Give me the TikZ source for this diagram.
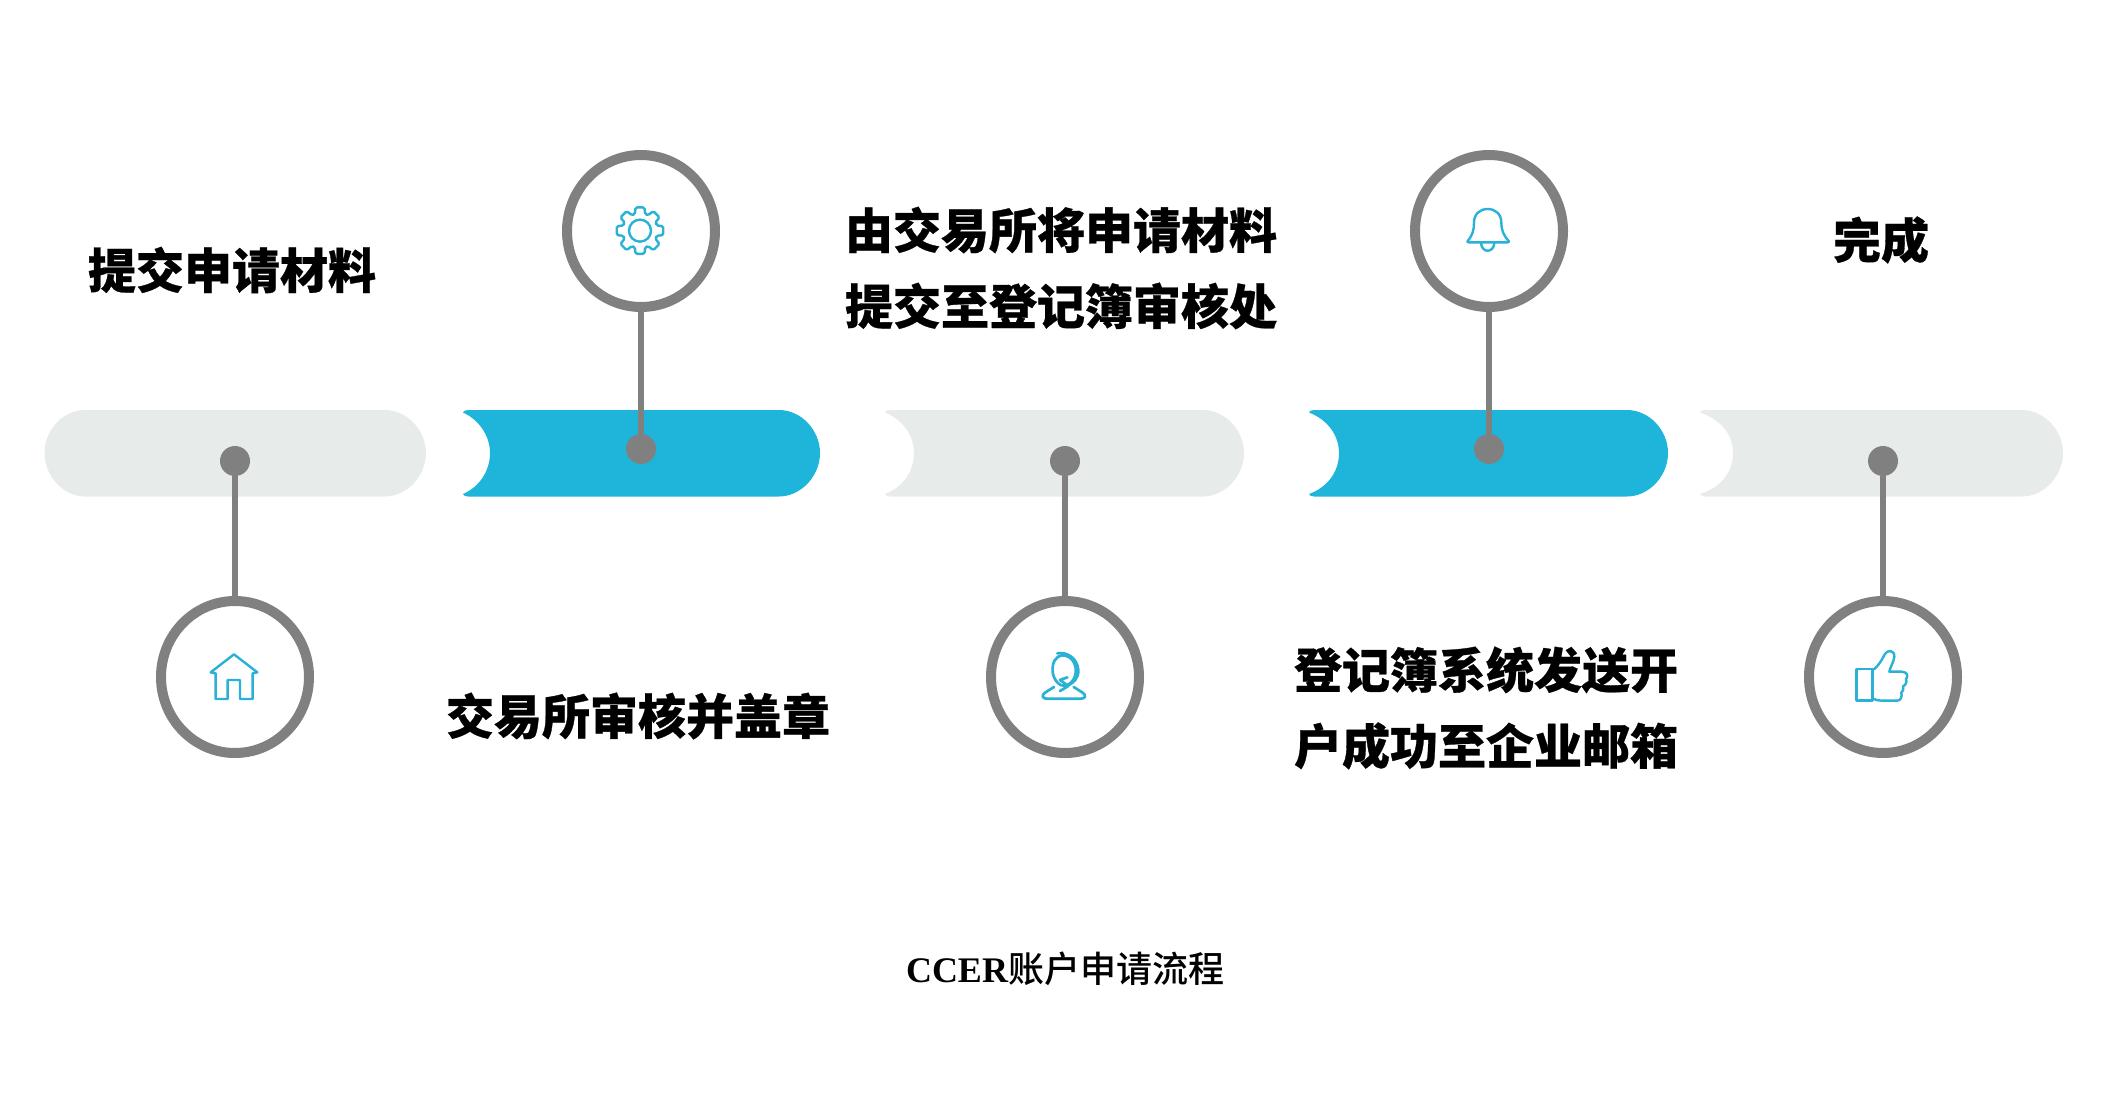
\documentclass[tikz,border=0pt]{standalone}
\usepackage{fontspec}
\usetikzlibrary{shapes.geometric}
\newfontfamily\cjkh[FakeBold=0.6]{Noto Sans CJK SC Black}
\newfontfamily\cjkm{Noto Sans CJK SC Medium}
\newfontfamily\latb{Liberation Serif}
\definecolor{pale}{HTML}{E7ECEA}
\definecolor{sky}{HTML}{1FB4DA}
\definecolor{steel}{HTML}{808080}
\definecolor{icon}{HTML}{29B2D6}
\tikzset{
  ring/.style={ellipse,draw=steel,line width=10pt,fill=white,minimum width=148pt,minimum height=152pt,inner sep=0,outer sep=0},
  dot/.style={circle,fill=steel,minimum size=30pt,inner sep=0,outer sep=0},
  conn/.style={draw=steel,line width=6pt},
  label/.style={font=\cjkh\fontsize{48}{76}\selectfont,align=center,inner sep=0,text=black},
  ico/.style={draw=icon,line width=2.4pt,line join=round,line cap=round},
}
\begin{document}
\begin{tikzpicture}[x=1pt,y=-1pt]
\useasboundingbox (0,0) rectangle (2120,1110);
% pills
\fill[pale] (85,410) -- (385,410) .. controls (407,410) and (426,430) .. (426,453)
  .. controls (426,476) and (407,496.5) .. (385,496.5) -- (85,496.5)
  .. controls (63,496.5) and (44.5,476) .. (44.5,453) .. controls (44.5,430) and (63,410) .. (85,410) -- cycle;
\foreach \xa/\nn/\xb/\col in {463/490/820/sky,885/914/1244/pale,1309/1339/1668/sky,1700/1733/2063/pale}{
  \fill[\col] ({\xa+5},410) -- ({\xb-41},410)
    .. controls ({\xb-19},410) and (\xb,430) .. (\xb,453)
    .. controls (\xb,476) and ({\xb-19},496.5) .. ({\xb-41},496.5)
    -- ({\xa+5},496.5) .. controls ({\xa+2},496.5) and ({\xa+1},495.5) .. (\xa,494)
    .. controls ({\nn-10.7},487) and (\nn,471) .. (\nn,453)
    .. controls (\nn,436) and ({\nn-10.7},420) .. (\xa,412.5)
    .. controls ({\xa+1},411) and ({\xa+2},410) .. ({\xa+5},410) -- cycle;
}
% rings and dots
\node[ring] (r1) at (235,677) {};
\node[ring] (r2) at (641,231) {};
\node[ring] (r3) at (1065,677) {};
\node[ring] (r4) at (1489,231) {};
\node[ring] (r5) at (1883,677) {};
\node[dot] (d1) at (235,461) {};
\node[dot] (d2) at (641,449) {};
\node[dot] (d3) at (1065,461) {};
\node[dot] (d4) at (1489,449) {};
\node[dot] (d5) at (1883,461) {};
\foreach \i in {1,...,5}{\draw[conn] (d\i) -- (r\i);}
% labels
\node[label] (t1) at (232,270) {提交申请材料};
\node[label] (t2) at (638,716) {交易所审核并盖章};
\node[label] (t3) at (1061,268) {由交易所将申请材料\\提交至登记簿审核处};
\node[label] (t4) at (1486,708) {登记簿系统发送开\\户成功至企业邮箱};
\node[label] (t5) at (1881,240) {完成};
\node[inner sep=0] (title) at (1065,969) {\fontsize{36}{40}\selectfont{\latb\bfseries CCER}{\cjkm 账户申请流程}};
% house
\begin{scope}[shift={(140,590)},x=0.3333pt,y=-0.3333pt]
\draw[ico] (227,327) -- (227,250) -- (212,247) -- (282,193) -- (352,247) -- (338,250) -- (338,327) -- (300,327) -- (300,270) -- (263,270) -- (263,327) -- cycle;
\end{scope}
% gear
\begin{scope}[shift={(560,140)},x=0.3333pt,y=-0.3333pt]
\draw[ico] (240,272) circle[radius=11pt];
\draw[ico,rounded corners=1.6pt] ({240+52*cos(-17)},{272+52*sin(-17)})
  \foreach \a in {0,45,...,315}{
    -- ({240+52*cos(\a-17)},{272+52*sin(\a-17)})
    -- ({240+71*cos(\a-11)},{272+71*sin(\a-11)})
    -- ({240+71*cos(\a+11)},{272+71*sin(\a+11)})
    -- ({240+52*cos(\a+17)},{272+52*sin(\a+17)})
  } -- cycle;
\end{scope}
% bell
\begin{scope}[shift={(1400,140)},x=0.3333pt,y=-0.3333pt]
\draw[ico] (203,303) .. controls (218,285) and (222,270) .. (222,248)
  .. controls (222,222) and (240,207) .. (263,207)
  .. controls (286,207) and (304,222) .. (304,248)
  .. controls (304,270) and (310,285) .. (326,303)
  .. controls (328,307) and (326,307) .. (322,307) -- (207,307)
  .. controls (203,307) and (201,307) .. (203,303) -- cycle;
\draw[ico] (243,309) .. controls (245,340) and (281,340) .. (283,309);
\end{scope}
% person
\begin{scope}[shift={(980,590)},x=0.3333pt,y=-0.3333pt]
\draw[ico,line width=2.7pt] (222,291) -- (195,308) .. controls (183,316) and (188,326) .. (200,326)
  -- (303,326) .. controls (316,326) and (320,316) .. (308,308) -- (281,291);
\draw[ico,line width=2.7pt] (248,196) .. controls (225,198) and (216,220) .. (218,245)
  .. controls (220,270) and (240,292) .. (258,287)
  .. controls (282,278) and (294,250) .. (284,222)
  .. controls (278,205) and (262,196) .. (248,196);
\draw[ico,line width=2.7pt] (232,190) .. controls (262,185) and (292,205) .. (295,240)
  .. controls (296,265) and (280,280) .. (262,287);
\draw[ico,line width=2.7pt] (262,262) -- (240,270) -- (265,288) -- (240,303);
\end{scope}
% thumb
\begin{scope}[shift={(1800,590)},x=0.3333pt,y=-0.3333pt]
\draw[ico] (170,237) rectangle (217,332);
\draw[ico] (222,238) .. controls (240,222) and (248,205) .. (254,193)
  .. controls (262,178) and (284,180) .. (283,200)
  .. controls (282,215) and (270,232) .. (268,245)
  -- (305,245) .. controls (322,246) and (326,258) .. (318,268)
  .. controls (322,276) and (316,286) .. (310,288)
  .. controls (312,296) and (308,306) .. (304,308)
  .. controls (308,322) and (300,332) .. (292,332)
  -- (245,332) .. controls (235,332) and (226,330) .. (217,325);
\end{scope}
\end{tikzpicture}
\end{document}
